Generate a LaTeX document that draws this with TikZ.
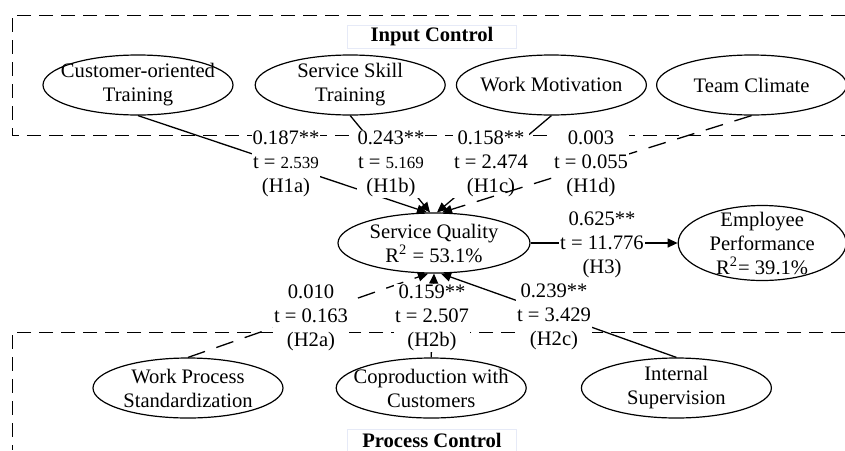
\documentclass[tikz,border=0pt]{standalone}
\usepackage{fontspec}
\setmainfont{Liberation Serif}
\usepackage[dvipsnames]{xcolor}
\usepackage{tikz}
\usetikzlibrary{arrows.meta,positioning,shapes.geometric}
\newcommand{\smalldig}[1]{{\fontsize{8.5}{12}\selectfont #1}}

\begin{document}
\begin{tikzpicture}[
  x=0.5pt,y=-0.5pt,
  font=\fontsize{10.3}{12}\selectfont,
  construct/.style={ellipse,draw,line width=0.6pt,minimum width=95pt,
                    minimum height=30pt,inner xsep=-6pt,inner ysep=-3pt,
                    align=center},
  coef/.style={fill=white,inner sep=0.5pt,align=center},
  tag/.style={rectangle,draw=NavyBlue!10,fill=white,minimum width=84.5pt,
              minimum height=11.5pt,inner sep=0pt,font=\fontsize{10.3}{12}\selectfont\bfseries},
  region/.style={dash pattern=on 7pt off 4pt,line width=0.5pt},
  arr/.style={-{Triangle[length=5pt,width=4.5pt]},line width=0.65pt},
  nsarr/.style={arr,dash pattern=on 9pt off 6pt},
]
\useasboundingbox (0,0) rectangle (845,450);

\draw[region] (845,15) -- (12,15) -- (12,135) -- (845,135);
\draw[region] (845,332) -- (12,332) -- (12,450);

\node[tag] (inctl) at (432,36.5) {Input Control};
\node[tag,anchor=north] (prctl) at (432,429) {Process Control};

\node[construct] (ct) at (138,85) {Customer-oriented\\Training};
\node[construct,right=10.5pt of ct] (sst) {Service Skill\\Training};
\node[construct,right=5pt of sst] (wm) {Work Motivation};
\node[construct,right=4.5pt of wm] (tc) {Team Climate};

\node[construct,minimum width=96pt] (sq) at (434,243) {Service Quality\\R\textsuperscript{2} = 53.1\%};
\node[construct,minimum width=84pt,minimum height=37.5pt,inner ysep=-6pt,
      right=73.5pt of sq] (ep) {Employee\\Performance\\R\textsuperscript{2}= 39.1\%};

\node[construct] (wps) at (188,388) {Work Process\\Standardization};
\node[construct,right=26pt of wps] (cop) {Coproduction with\\Customers};
\node[construct,right=27pt of cop] (is) {Internal\\Supervision};

\draw[arr] (ct.south) -- ([xshift=-3.5pt]sq.north);
\node[coef] (h1a) at (286,164) {0.187**\\t = \smalldig{2.539}\\(H1a)};
\draw[arr] (sst.south) -- ([xshift=-2pt]sq.north);
\node[coef] (h1b) at (391,164) {0.243**\\t = \smalldig{5.169}\\(H1b)};
\draw[arr] (wm.south) -- ([xshift=1.5pt]sq.north);
\node[coef] (h1c) at (491,164) {0.158**\\t = 2.474\\(H1c)};
\draw[nsarr] (tc.south) -- ([xshift=4pt]sq.north);
\node[coef] (h1d) at (591,164) {0.003\\t = 0.055\\(H1d)};

\draw[arr] (sq.east) -- (ep.west);
\node[coef] (h3) at (602,245) {0.625**\\t = 11.776\\(H3)};

\draw[nsarr] (wps.north) -- ([xshift=-3pt]sq.south);
\node[coef] (h2a) at (311,318) {0.010\\t = 0.163\\(H2a)};
\draw[arr] (cop.north) -- (sq.south);
\node[coef] (h2b) at (432,318) {0.159**\\t = 2.507\\(H2b)};
\draw[arr] (is.north) -- ([xshift=3.5pt]sq.south);
\node[coef] (h2c) at (554,317) {0.239**\\t = 3.429\\(H2c)};

\end{tikzpicture}
\end{document}
